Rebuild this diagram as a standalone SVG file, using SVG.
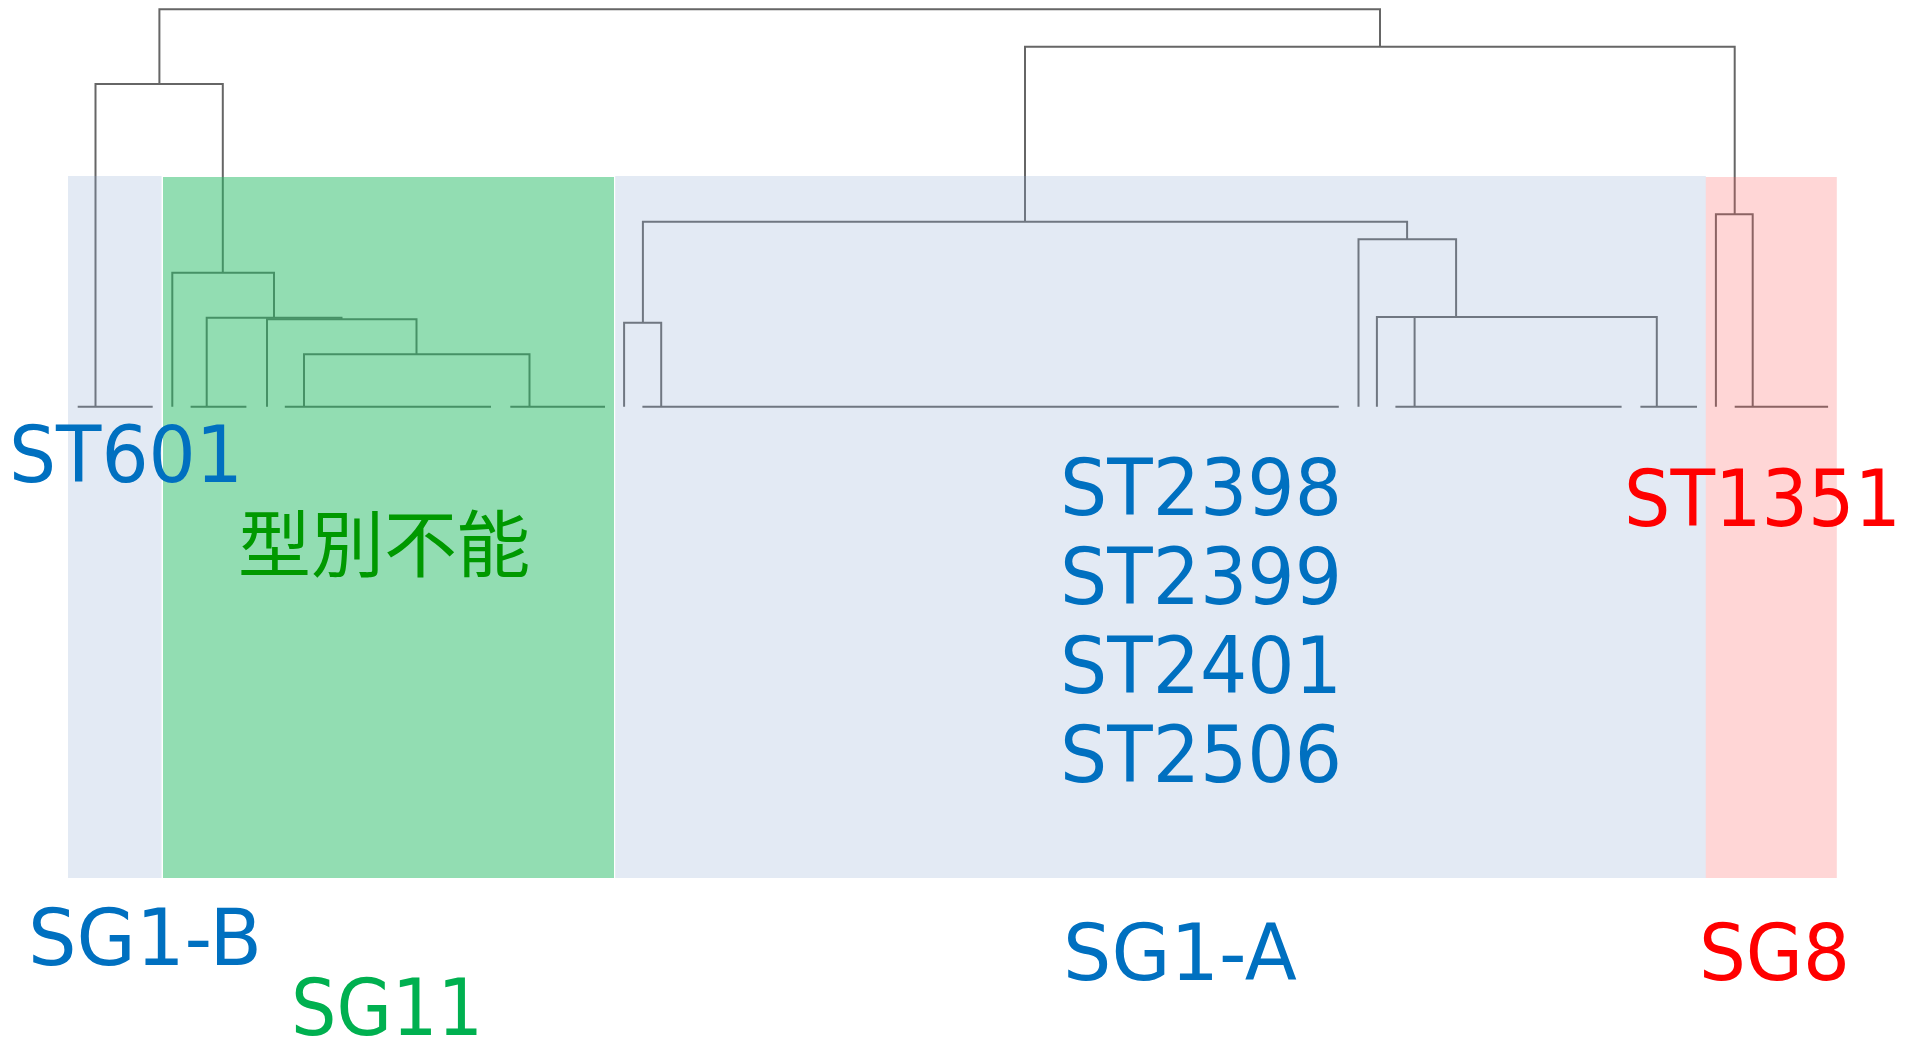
<svg xmlns="http://www.w3.org/2000/svg" width="1907" height="1044" viewBox="0 0 1907 1044">
<style>
  .ln { fill: none; stroke: #666666; stroke-width: 2; stroke-linecap: butt; stroke-linejoin: miter; }
  .lbl { font-family: "DejaVu Sans", "Liberation Sans", sans-serif; font-size: 79px; }
  .cjk { font-family: "Noto Sans CJK JP", "Noto Sans CJK SC", sans-serif; font-size: 73px; }
  .blue { fill: #0070C0; }
  .red { fill: #FF0000; }
  .green { fill: #00B050; }
  .dgreen { fill: #009900; }
</style>
<rect x="0" y="0" width="1907" height="1044" fill="#FFFFFF"/>
<g id="connectors">
  <path class="ln" d="M159.4,84 V9.3 H1380 V46.7"/>
  <path class="ln" d="M95.5,406.7 V84 H222.8 V272.7"/>
  <path class="ln" d="M172.3,406.7 V272.7 H274 V317.7"/>
  <path class="ln" d="M206.7,406.7 V317.7 H341.5 V319.3"/>
  <path class="ln" d="M267,406.7 V319.3 H416.5 V354.3"/>
  <path class="ln" d="M304,406.7 V354.3 H529.5 V406.7"/>
  <path class="ln" d="M1025,221.7 V46.7 H1734.7 V214.3"/>
  <path class="ln" d="M642.9,322.7 V221.7 H1407.1 V239.3"/>
  <path class="ln" d="M624.1,406.7 V322.7 H661.2 V406.7"/>
  <path class="ln" d="M1358.5,406.7 V239.3 H1456.1 V317"/>
  <path class="ln" d="M1376.9,406.7 V317 H1656.8 V406.7"/>
  <path class="ln" d="M1414.6,317 V406.7"/>
  <path class="ln" d="M1715.9,406.7 V214.3 H1752.7 V406.7"/>
  <path class="ln" d="M77.7,406.7 H152.7 M190.6,406.7 H246.4 M284.8,406.7 H491 M510.3,406.7 H605 M642.4,406.7 H1338.8 M1395.4,406.7 H1621.6 M1640.4,406.7 H1697 M1734.7,406.7 H1828.1"/>
</g>
<g id="sg11">
  <rect x="163" y="177" width="451" height="701" fill="rgb(37,187,101)" fill-opacity="0.5"/>
  <text class="cjk dgreen" x="238" y="571">型別不能</text>
  <text class="lbl green" x="291" y="1035" textLength="192" lengthAdjust="spacingAndGlyphs">SG11</text>
</g>
<g id="sg1b">
  <rect x="68" y="176" width="93.6" height="702" fill="rgb(143,171,211)" fill-opacity="0.25"/>
  <text class="lbl blue" x="9" y="482" textLength="234" lengthAdjust="spacingAndGlyphs">ST601</text>
  <text class="lbl blue" x="28" y="965" textLength="234" lengthAdjust="spacingAndGlyphs">SG1-B</text>
</g>
<g id="sg1a">
  <rect x="615.2" y="176" width="1090.6" height="702" fill="rgb(143,171,211)" fill-opacity="0.25"/>
  <text class="lbl blue" x="1060" y="515" textLength="282" lengthAdjust="spacingAndGlyphs">ST2398</text>
  <text class="lbl blue" x="1060" y="604" textLength="282" lengthAdjust="spacingAndGlyphs">ST2399</text>
  <text class="lbl blue" x="1060" y="693" textLength="282" lengthAdjust="spacingAndGlyphs">ST2401</text>
  <text class="lbl blue" x="1060" y="782" textLength="282" lengthAdjust="spacingAndGlyphs">ST2506</text>
  <text class="lbl blue" x="1063" y="980" textLength="234" lengthAdjust="spacingAndGlyphs">SG1-A</text>
</g>
<g id="sg8">
  <rect x="1705.8" y="177" width="131" height="701" fill="rgb(255,91,91)" fill-opacity="0.25"/>
  <text class="lbl red" x="1624" y="526" textLength="277" lengthAdjust="spacingAndGlyphs">ST1351</text>
  <text class="lbl red" x="1699" y="980" textLength="151" lengthAdjust="spacingAndGlyphs">SG8</text>
</g>
</svg>
